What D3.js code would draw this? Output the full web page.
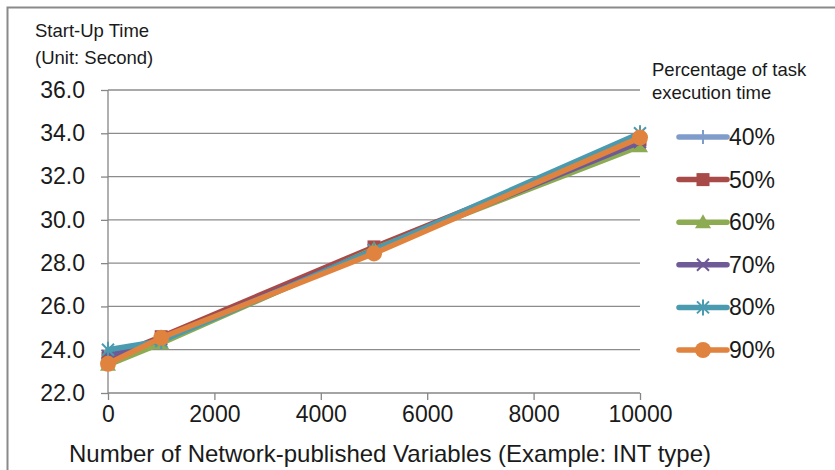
<!DOCTYPE html>
<html><head><meta charset="utf-8">
<script src="https://cdn.jsdelivr.net/npm/d3@7"></script>
<style>body{margin:0;background:#fff}svg{display:block}text{font-family:"Liberation Sans",Arial,sans-serif;fill:#1a1a1a}</style>
</head><body><svg id="c" width="835" height="470"></svg>
<script>
const xValues = [0, 1000, 5000, 10000];
const seriesNames = ["40%", "50%", "60%", "70%", "80%", "90%"];
const s40 = [23.6, 24.5, 28.6, 33.7];
const s50 = [23.6, 24.6, 28.75, 33.7];
const s60 = [23.3, 24.3, 28.65, 33.4];
const s70 = [23.7, 24.5, 28.6, 33.6];
const s80 = [24.0, 24.4, 28.6, 34.0];
const s90 = [23.35, 24.55, 28.45, 33.8];
const seriesValues = [s40, s50, s60, s70, s80, s90];
const colors = ["#7f9ccb", "#a84a48", "#8cab52", "#6e5a96", "#4a9bb0", "#e0833f"];
const markers = ["plus", "square", "triangle", "x", "asterisk", "circle"];
const yTicks = [22, 24, 26, 28, 30, 32, 34, 36];
const xTicks = [0, 2000, 4000, 6000, 8000, 10000];

const svg = d3.select("#c");
const L = 108, R = 640, T = 90, B = 393;
const x = d3.scaleLinear().domain([0, 10000]).range([L, R]);
const y = d3.scaleLinear().domain([22, 36]).range([B, T]);

// frame
svg.append("rect").attr("x", 7.5).attr("y", 7.5).attr("width", 900).attr("height", 500)
  .attr("fill", "none").attr("stroke", "#8a8a8a").attr("stroke-width", 2);

// gridlines
svg.append("g").selectAll("line").data(yTicks.filter(d => d > 22)).join("line")
  .attr("x1", L).attr("x2", R).attr("y1", d => y(d)).attr("y2", d => y(d))
  .attr("stroke", "#8c8c8c").attr("stroke-width", 1.3);

// axes
const yAxis = d3.axisLeft(y).tickValues(yTicks).tickFormat(d3.format(".1f")).tickSize(7).tickPadding(16);
const gy = svg.append("g").attr("transform", `translate(${L},0)`).call(yAxis);
const xAxis = d3.axisBottom(x).tickValues(xTicks).tickFormat(d => d).tickSize(7).tickPadding(6);
const gx = svg.append("g").attr("transform", `translate(0,${B})`).call(xAxis);
[gy, gx].forEach(g => {
  g.select(".domain").attr("stroke", "#868686").attr("stroke-width", 1.3);
  g.selectAll(".tick line").attr("stroke", "#868686").attr("stroke-width", 1.3);
  g.selectAll("text").style("font-family", '"Liberation Sans",Arial,sans-serif').style("font-size", "23px").attr("fill", "#1a1a1a");
});
gx.select(".domain").attr("d", `M${L},0H${R}`);
gy.select(".domain").attr("d", `M0,${B}V${T}`);

// marker drawer
function drawMarker(g, type, cx, cy, color) {
  if (type === "square") {
    g.append("rect").attr("x", cx - 6.5).attr("y", cy - 6.5).attr("width", 13).attr("height", 13).attr("fill", color);
  } else if (type === "triangle") {
    g.append("path").attr("d", `M${cx},${cy - 8}L${cx + 8},${cy + 6}L${cx - 8},${cy + 6}Z`).attr("fill", color);
  } else if (type === "circle") {
    g.append("circle").attr("cx", cx).attr("cy", cy).attr("r", 8).attr("fill", color);
  } else if (type === "plus") {
    g.append("path").attr("d", `M${cx - 7},${cy}H${cx + 7}M${cx},${cy - 7}V${cy + 7}`).attr("stroke", color).attr("stroke-width", 2).attr("fill", "none");
  } else if (type === "x") {
    g.append("path").attr("d", `M${cx - 6},${cy - 6}L${cx + 6},${cy + 6}M${cx - 6},${cy + 6}L${cx + 6},${cy - 6}`).attr("stroke", color).attr("stroke-width", 2).attr("fill", "none");
  } else if (type === "asterisk") {
    g.append("path").attr("d", `M${cx - 6},${cy - 6}L${cx + 6},${cy + 6}M${cx - 6},${cy + 6}L${cx + 6},${cy - 6}M${cx},${cy - 8}V${cy + 8}`).attr("stroke", color).attr("stroke-width", 2).attr("fill", "none");
  }
}

// series
const line = d3.line().x((d, i) => x(xValues[i])).y(d => y(d));
seriesValues.forEach((vals, si) => {
  const g = svg.append("g");
  g.append("path").datum(vals).attr("d", line).attr("fill", "none")
    .attr("stroke", colors[si]).attr("stroke-width", 5.5).attr("stroke-linejoin", "round").attr("stroke-linecap", "round");
  vals.forEach((v, i) => drawMarker(g, markers[si], x(xValues[i]), y(v), colors[si]));
});

// y title
svg.append("text").attr("x", 35).attr("y", 37).style("font-size", "18.5px").text("Start-Up Time");
svg.append("text").attr("x", 35).attr("y", 64).style("font-size", "18.5px").text("(Unit: Second)");

// x title
svg.append("text").attr("x", (68 + 712) / 2).attr("y", 462).attr("text-anchor", "middle").style("font-size", "24px")
  .text("Number of Network-published Variables (Example: INT type)");

// legend
svg.append("text").attr("x", 652).attr("y", 76).style("font-size", "18.5px").text("Percentage of task");
svg.append("text").attr("x", 652).attr("y", 99).style("font-size", "18.5px").text("execution time");
const legY = d3.scaleLinear().domain([0, 5]).range([137, 350]);
seriesNames.forEach((name, i) => {
  const g = svg.append("g");
  const cy = legY(i);
  g.append("line").attr("x1", 679).attr("x2", 727).attr("y1", cy).attr("y2", cy)
    .attr("stroke", colors[i]).attr("stroke-width", 5.5).attr("stroke-linecap", "round");
  drawMarker(g, markers[i], 703, cy, colors[i]);
  g.append("text").attr("x", 729).attr("y", cy).attr("dy", "0.35em").style("font-size", "23px").text(name);
});
</script></body></html>
